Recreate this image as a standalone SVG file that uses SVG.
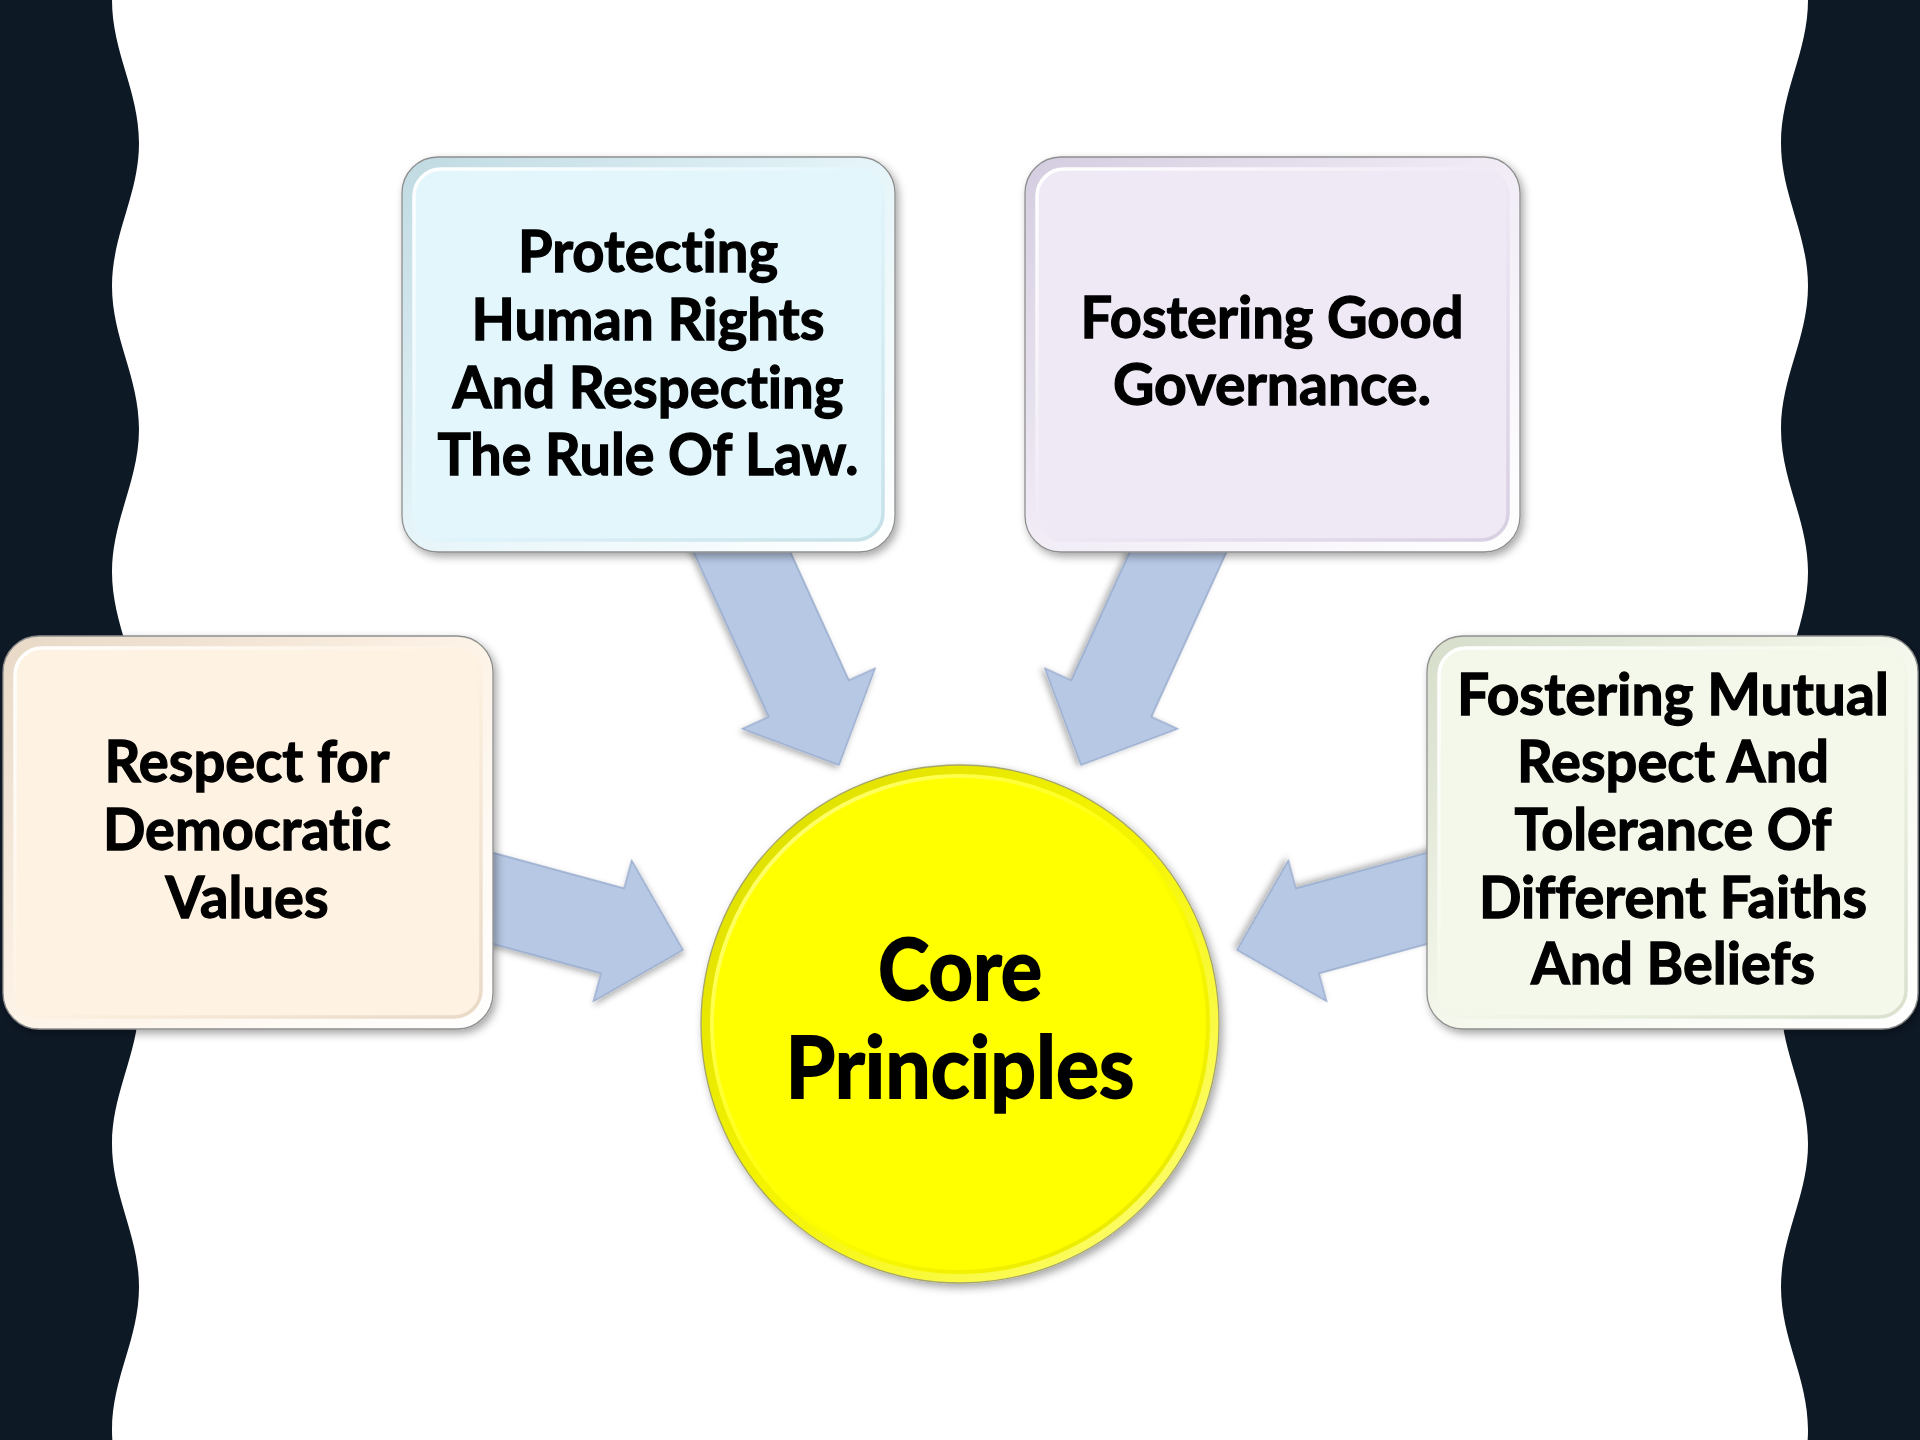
<svg xmlns="http://www.w3.org/2000/svg" width="1920" height="1440" viewBox="0 0 1920 1440">
<defs>
<style>
.t{font-family:Lato,"Open Sans","Liberation Sans",sans-serif;font-weight:700;font-size:58px;fill:#000;stroke:#000;stroke-width:1.3;text-anchor:middle;font-variant-ligatures:none;font-feature-settings:"liga" 0,"clig" 0}
.core{font-size:86px;stroke-width:1.8}
.arrow{fill:#b7c8e4;stroke:#95a9cc;stroke-width:1.3;filter:url(#ash)}
.outer{stroke:#8f8f8f;stroke-width:1.3;filter:url(#sh)}
.inner{stroke-width:3.5}
.wave{fill:#0e1926}
</style>
<filter id="sh" x="-10%" y="-10%" width="125%" height="125%">
<feDropShadow dx="3" dy="4" stdDeviation="4" flood-color="#000" flood-opacity="0.35"/>
</filter>
<filter id="ash" x="-20%" y="-20%" width="140%" height="140%">
<feDropShadow dx="2" dy="3" stdDeviation="3" flood-color="#000" flood-opacity="0.3"/>
</filter>
<linearGradient id="oBlue" x1="0" y1="0" x2="1" y2="1"><stop offset="0" stop-color="#c0dae2"/><stop offset="0.5" stop-color="#e6f5f9"/><stop offset="1" stop-color="#ffffff"/></linearGradient>
<linearGradient id="iBlue" x1="0" y1="0" x2="1" y2="1"><stop offset="0" stop-color="#ffffff"/><stop offset="0.5" stop-color="#e2f6fc"/><stop offset="1" stop-color="#c6e0e8"/></linearGradient>
<linearGradient id="oLav" x1="0" y1="0" x2="1" y2="1"><stop offset="0" stop-color="#d4cde0"/><stop offset="0.5" stop-color="#f1ecf6"/><stop offset="1" stop-color="#ffffff"/></linearGradient>
<linearGradient id="iLav" x1="0" y1="0" x2="1" y2="1"><stop offset="0" stop-color="#ffffff"/><stop offset="0.5" stop-color="#efe9f5"/><stop offset="1" stop-color="#d7cfe2"/></linearGradient>
<linearGradient id="oCream" x1="0" y1="0" x2="1" y2="1"><stop offset="0" stop-color="#e8d8c6"/><stop offset="0.5" stop-color="#fdf3e7"/><stop offset="1" stop-color="#ffffff"/></linearGradient>
<linearGradient id="iCream" x1="0" y1="0" x2="1" y2="1"><stop offset="0" stop-color="#ffffff"/><stop offset="0.5" stop-color="#fef2e2"/><stop offset="1" stop-color="#e9d9c6"/></linearGradient>
<linearGradient id="oGreen" x1="0" y1="0" x2="1" y2="1"><stop offset="0" stop-color="#d6ddca"/><stop offset="0.5" stop-color="#f4f8ec"/><stop offset="1" stop-color="#ffffff"/></linearGradient>
<linearGradient id="iGreen" x1="0" y1="0" x2="1" y2="1"><stop offset="0" stop-color="#ffffff"/><stop offset="0.5" stop-color="#f3f8ea"/><stop offset="1" stop-color="#d9e0cd"/></linearGradient>
<linearGradient id="oYel" x1="0" y1="0" x2="1" y2="1"><stop offset="0" stop-color="#dada00"/><stop offset="0.5" stop-color="#f5f500"/><stop offset="1" stop-color="#ffff8a"/></linearGradient>
<linearGradient id="iYel" x1="0" y1="0" x2="1" y2="1"><stop offset="0" stop-color="#ffff90"/><stop offset="0.5" stop-color="#ffff00"/><stop offset="1" stop-color="#e4e400"/></linearGradient>
<path id="arr" d="M0,0 L-73,-73 L-73,-44 L-275,-44 L-275,44 L-73,44 L-73,73 Z"/>
</defs>
<rect width="1920" height="1440" fill="#ffffff"/>
<path class="wave" d="M0,0 H112 c0,52 27,91 27,143 c0,52 -27,91 -27,143 c0,52 27,91 27,143 c0,52 -27,91 -27,143 c0,52 27,91 27,143 c0,52 -27,91 -27,143 c0,52 27,91 27,143 c0,52 -27,91 -27,143 c0,52 27,91 27,143 c0,52 -27,91 -27,143 c0,52 27,91 27,143 H0 Z"/>
<path class="wave" d="M1920,0 H1808 c0,52 -27,91 -27,143 c0,52 27,91 27,143 c0,52 -27,91 -27,143 c0,52 27,91 27,143 c0,52 -27,91 -27,143 c0,52 27,91 27,143 c0,52 -27,91 -27,143 c0,52 27,91 27,143 c0,52 -27,91 -27,143 c0,52 27,91 27,143 c0,52 -27,91 -27,143 H1920 Z"/>
<g id="connectors">
<use href="#arr" class="arrow" transform="translate(683,950) rotate(15.2)"/>
<use href="#arr" class="arrow" transform="translate(839,765) rotate(65.5)"/>
<use href="#arr" class="arrow" transform="translate(1081,765) rotate(114.5)"/>
<use href="#arr" class="arrow" transform="translate(1237,950) rotate(164.8)"/>
</g>
<g id="node-rights">
<rect class="outer" x="402" y="157" width="493" height="395" rx="36" fill="url(#oBlue)"/>
<rect class="inner" x="414" y="169" width="469" height="371" rx="27" fill="#e2f6fc" stroke="url(#iBlue)"/>
<text class="t" x="648" y="272" textLength="260" lengthAdjust="spacingAndGlyphs">Protecting</text>
<text class="t" x="648" y="340" textLength="353" lengthAdjust="spacingAndGlyphs">Human Rights</text>
<text class="t" x="648" y="408" textLength="391" lengthAdjust="spacingAndGlyphs">And Respecting</text>
<text class="t" x="648" y="475" textLength="421" lengthAdjust="spacingAndGlyphs">The Rule Of Law.</text>
</g>
<g id="node-governance">
<rect class="outer" x="1025" y="157" width="495" height="395" rx="36" fill="url(#oLav)"/>
<rect class="inner" x="1037" y="169" width="471" height="371" rx="27" fill="#efe9f5" stroke="url(#iLav)"/>
<text class="t" x="1272" y="338" textLength="383" lengthAdjust="spacingAndGlyphs">Fostering Good</text>
<text class="t" x="1272" y="405" textLength="318" lengthAdjust="spacingAndGlyphs">Governance.</text>
</g>
<g id="node-democratic">
<rect class="outer" x="3" y="636" width="490" height="393" rx="36" fill="url(#oCream)"/>
<rect class="inner" x="15" y="648" width="466" height="369" rx="27" fill="#fef2e2" stroke="url(#iCream)"/>
<text class="t" x="247" y="782" textLength="285" lengthAdjust="spacingAndGlyphs">Respect for</text>
<text class="t" x="247" y="850" textLength="288" lengthAdjust="spacingAndGlyphs">Democratic</text>
<text class="t" x="247" y="918" textLength="163" lengthAdjust="spacingAndGlyphs">Values</text>
</g>
<g id="node-tolerance">
<rect class="outer" x="1427" y="636" width="491" height="393" rx="36" fill="url(#oGreen)"/>
<rect class="inner" x="1439" y="648" width="467" height="369" rx="27" fill="#f3f8ea" stroke="url(#iGreen)"/>
<text class="t" x="1673" y="715" textLength="432" lengthAdjust="spacingAndGlyphs">Fostering Mutual</text>
<text class="t" x="1673" y="782" textLength="312" lengthAdjust="spacingAndGlyphs">Respect And</text>
<text class="t" x="1673" y="850" textLength="317" lengthAdjust="spacingAndGlyphs">Tolerance Of</text>
<text class="t" x="1673" y="918" textLength="388" lengthAdjust="spacingAndGlyphs">Different Faiths</text>
<text class="t" x="1673" y="984" textLength="284" lengthAdjust="spacingAndGlyphs">And Beliefs</text>
</g>
<g id="node-core">
<circle cx="960" cy="1024" r="259" fill="url(#oYel)" stroke="#a6a66a" stroke-width="1.3" filter="url(#sh)"/>
<circle cx="960" cy="1024" r="248" fill="#ffff00" stroke="url(#iYel)" stroke-width="4"/>
<text class="t core" x="960" y="1000" textLength="164" lengthAdjust="spacingAndGlyphs">Core</text>
<text class="t core" x="960" y="1098" textLength="349" lengthAdjust="spacingAndGlyphs">Principles</text>
</g>
</svg>
